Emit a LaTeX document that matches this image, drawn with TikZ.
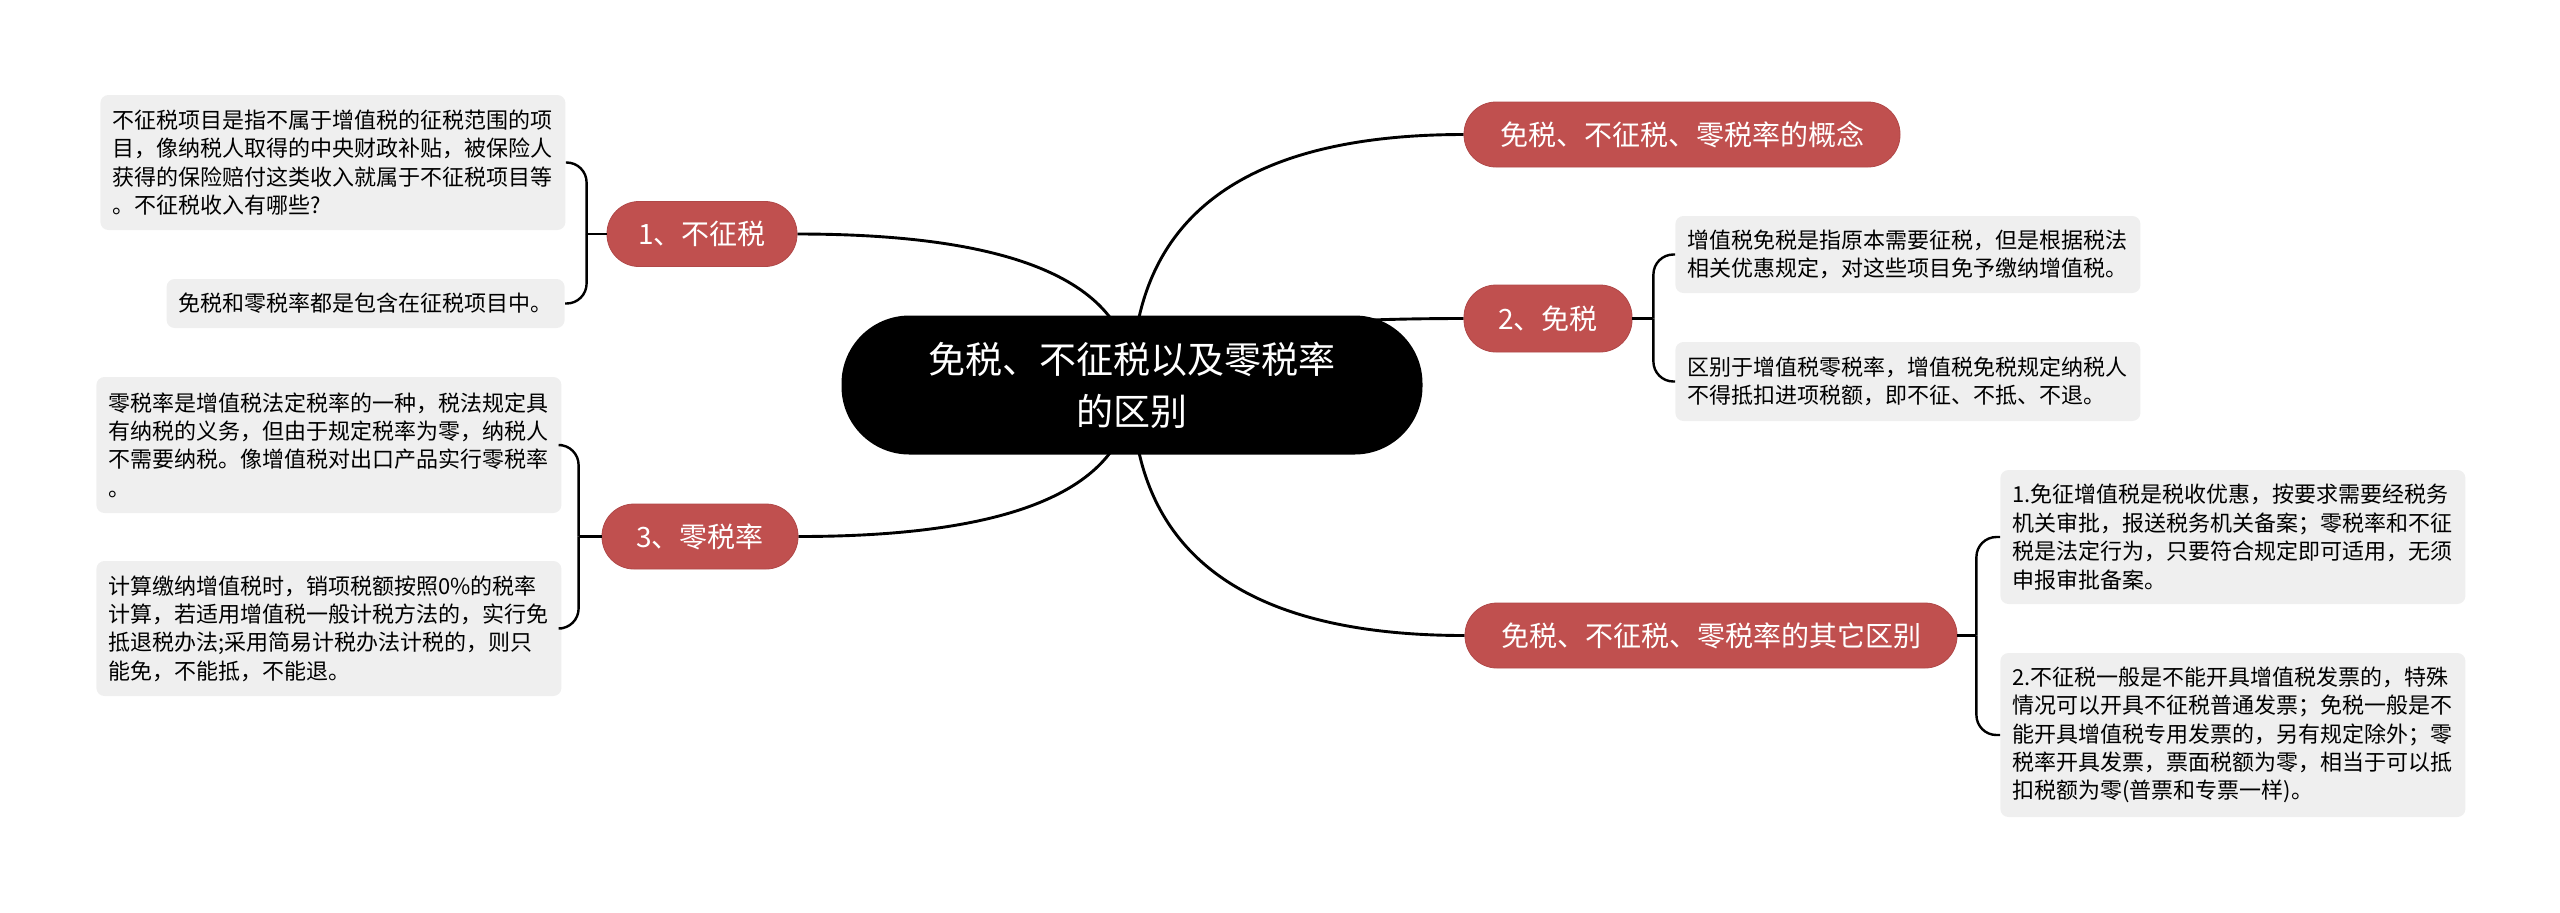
\documentclass[tikz,border=0pt]{standalone}
\usepackage{fontspec}
\setmainfont{Noto Sans CJK SC}
\usetikzlibrary{calc,backgrounds}
\definecolor{branchred}{HTML}{C0504F}
\definecolor{branchedge}{HTML}{B04848}
\definecolor{boxgray}{HTML}{EFEFEF}
\tikzset{
  centralnode/.style={fill=black, text=white, rounded corners=34pt, minimum width=290.5pt, minimum height=69.5pt, align=center, font=\fontsize{18.5pt}{26pt}\selectfont, inner sep=0pt},
  branchnode/.style={fill=branchred, draw=branchedge, line width=0.4pt, text=white, rounded corners=16pt, minimum height=32.5pt, font=\fontsize{14pt}{17pt}\selectfont, inner sep=0pt},
  leafbox/.style={fill=boxgray, rounded corners=4pt, align=left, inner xsep=6pt, inner ysep=0pt, font=\fontsize{11pt}{14.2pt}\selectfont, text width=220.5pt},
  mainlink/.style={line width=1.45pt, black},
  sublink/.style={line width=1.2pt, black},
  qcurve/.style={to path={.. controls ($(\tikztostart)!0.667!(\tikztostart |- \tikztotarget)$) and ($(\tikztotarget)!0.667!(\tikztostart |- \tikztotarget)$) .. (\tikztotarget)}}
}
\begin{document}
\begin{tikzpicture}[x=0.5pt, y=-0.5pt]
\useasboundingbox (0,0) rectangle (2560,912);

% central
\node[centralnode] (cen) at (1132,385) {免税、不征税以及零税率\\的区别};

% branches
\node[branchnode, minimum width=218pt] (b1) at (1682,134.5) {免税、不征税、零税率的概念};
\node[branchnode, minimum width=84pt, minimum height=33.5pt] (b2) at (1548,318.5) {2、免税};
\node[branchnode, minimum width=246pt] (b3) at (1711,635.5) {免税、不征税、零税率的其它区别};
\node[branchnode, minimum width=95pt] (l1) at (702,234) {1、不征税};
\node[branchnode, minimum width=98pt] (l3) at (700,536.5) {3、零税率};

% leaf boxes
\node[leafbox, anchor=west, minimum height=67.5pt] (tl) at (100,162.5) {不征税项目是指不属于增值税的征税范围的项\\目，像纳税人取得的中央财政补贴，被保险人\\获得的保险赔付这类收入就属于不征税项目等\\。不征税收入有哪些?};
\node[leafbox, anchor=east, minimum height=24.5pt, text width=187pt] (bl) at (565,303.5) {免税和零税率都是包含在征税项目中。};
\node[leafbox, anchor=west, minimum height=68pt] (ml1) at (96,445) {零税率是增值税法定税率的一种，税法规定具\\有纳税的义务，但由于规定税率为零，纳税人\\不需要纳税。像增值税对出口产品实行零税率\\。};
\node[leafbox, anchor=west, minimum height=67.5pt] (ml2) at (96,628.5) {计算缴纳增值税时，销项税额按照0\%的税率\\计算，若适用增值税一般计税方法的，实行免\\抵退税办法;采用简易计税办法计税的，则只\\能免，不能抵，不能退。};
\node[leafbox, anchor=west, minimum height=38.5pt] (r1) at (1675,254.5) {增值税免税是指原本需要征税，但是根据税法\\相关优惠规定，对这些项目免予缴纳增值税。};
\node[leafbox, anchor=west, minimum height=39.5pt] (r2) at (1675,381.5) {区别于增值税零税率，增值税免税规定纳税人\\不得抵扣进项税额，即不征、不抵、不退。};
\node[leafbox, anchor=west, minimum height=67pt] (r3) at (2000,537) {1.免征增值税是税收优惠，按要求需要经税务\\机关审批，报送税务机关备案；零税率和不征\\税是法定行为，只要符合规定即可适用，无须\\申报审批备案。};
\node[leafbox, anchor=west, minimum height=82pt] (r4) at (2000,735) {2.不征税一般是不能开具增值税发票的，特殊\\情况可以开具不征税普通发票；免税一般是不\\能开具增值税专用发票的，另有规定除外；零\\税率开具发票，票面税额为零，相当于可以抵\\扣税额为零(普票和专票一样)。};

% junctions
\coordinate (j2) at ($(b2.east)+(21,0)$);
\coordinate (j3) at ($(b3.east)+(19,0)$);
\coordinate (jl1) at ($(l1.west)+(-20,0)$);
\coordinate (jl3) at ($(l3.west)+(-23,0)$);

\begin{pgfonlayer}{background}
  \draw[mainlink] (cen.center) to[qcurve] (b1.west);
  \draw[mainlink] (cen.center) to[qcurve] (b2.west);
  \draw[mainlink] (cen.center) to[qcurve] (b3.west);
  \draw[mainlink] (cen.center) to[qcurve] (l1.east);
  \draw[mainlink] (cen.center) to[qcurve] (l3.east);
\end{pgfonlayer}

\draw[sublink] (b2.east) -- (j2);
\draw[sublink, rounded corners=10pt] (j2) |- (r1.west);
\draw[sublink, rounded corners=10pt] (j2) |- (r2.west);
\draw[sublink] (b3.east) -- (j3);
\draw[sublink, rounded corners=10pt] (j3) |- (r3.west);
\draw[sublink, rounded corners=10pt] (j3) |- (r4.west);
\draw[sublink] (l1.west) -- (jl1);
\draw[sublink, rounded corners=10pt] (jl1) |- (tl.east);
\draw[sublink, rounded corners=10pt] (jl1) |- (bl.east);
\draw[sublink] (l3.west) -- (jl3);
\draw[sublink, rounded corners=10pt] (jl3) |- (ml1.east);
\draw[sublink, rounded corners=10pt] (jl3) |- (ml2.east);
\end{tikzpicture}
\end{document}
